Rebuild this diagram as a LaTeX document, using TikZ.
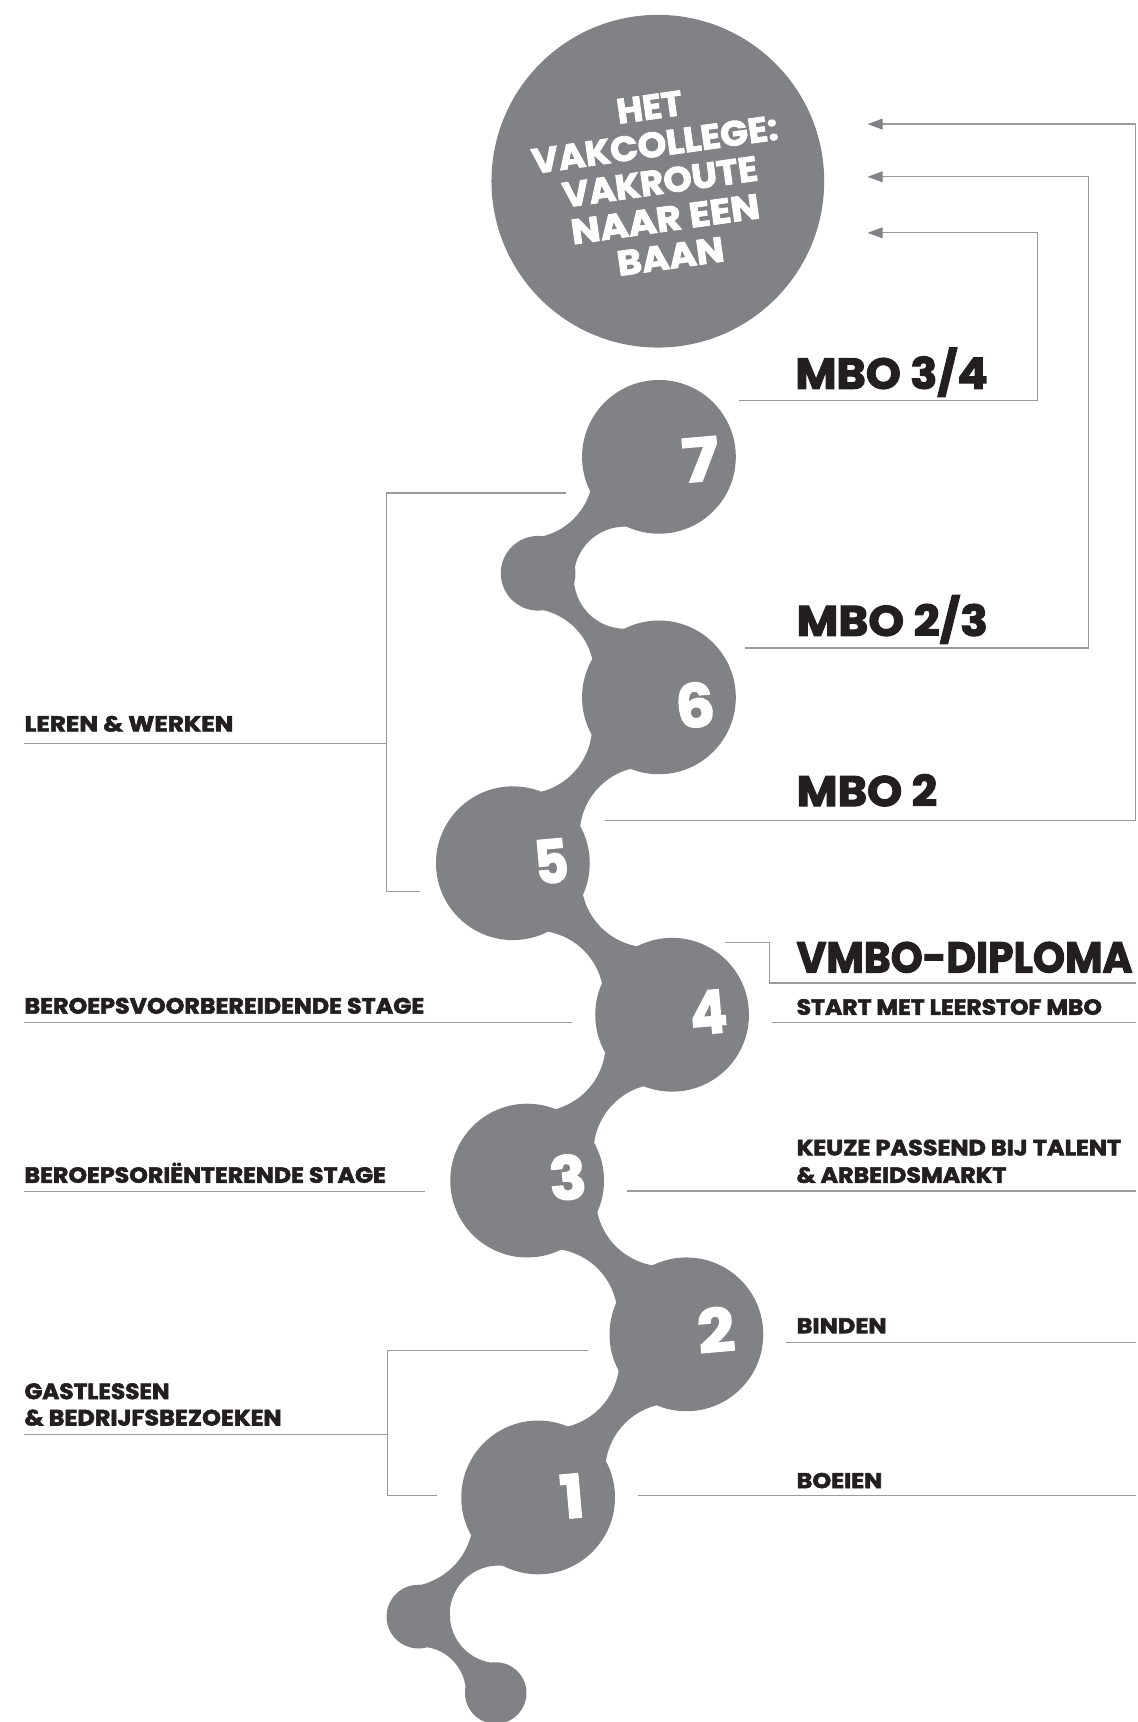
\documentclass[tikz,border=0pt]{standalone}
\usepackage{fontspec}
\usepackage{graphicx}
\setmainfont{Poppins}[BoldFeatures={FakeBold=2.5}]
\usetikzlibrary{calc,arrows.meta}
\definecolor{blobgray}{RGB}{128,130,133}
\definecolor{linegray}{RGB}{155,155,158}
\definecolor{ink}{RGB}{35,31,32}
% text resized to a given width and cap height
\newcommand{\fitwh}[3]{\resizebox{#1}{#2}{\smash{#3}\vphantom{H}}}
\newcommand{\necktrace}[4]{%
  \pgfmathsetmacro{\nkSa}{atan2(#2-\nkfay,#1-\nkfax)}%
  \pgfmathsetmacro{\nkEa}{atan2(#4-\nkfay,#3-\nkfax)}%
  \pgfmathsetmacro{\nkEa}{\nkEa-360*round((\nkEa-\nkSa)/360)}%
  \pgfmathsetmacro{\nkSb}{atan2(#4-\nkfby,#3-\nkfbx)}%
  \pgfmathsetmacro{\nkEb}{atan2(#2-\nkfby,#1-\nkfbx)}%
  \pgfmathsetmacro{\nkEb}{\nkEb-360*round((\nkEb-\nkSb)/360)}%
  \fill[blob] (#1,#2) -- ($(\nkfax,\nkfay)+(\nkSa:\nkRa)$)
     arc[start angle=\nkSa, end angle=\nkEa, radius=\nkRa]
     -- (#3,#4) -- ($(\nkfbx,\nkfby)+(\nkSb:\nkRb)$)
     arc[start angle=\nkSb, end angle=\nkEb, radius=\nkRb] -- cycle;%
}
\newcommand{\regneck}[8]{%
  \pgfmathsetmacro{\nkdx}{(#4-#1)/10}%
  \pgfmathsetmacro{\nkdy}{(#5-#2)/10}%
  \pgfmathsetmacro{\nkd}{10*sqrt(\nkdx*\nkdx+\nkdy*\nkdy)}%
  \pgfmathsetmacro{\nkux}{(#4-#1)/\nkd}%
  \pgfmathsetmacro{\nkuy}{(#5-#2)/\nkd}%
  \pgfmathsetmacro{\nka}{(#3+\nkd-#6)/2}%
  \pgfmathsetmacro{\nkfax}{#1+\nka*\nkux-#8*\nkuy}%
  \pgfmathsetmacro{\nkfay}{#2+\nka*\nkuy+#8*\nkux}%
  \pgfmathsetmacro{\nkfbx}{#1+\nka*\nkux+#8*\nkuy}%
  \pgfmathsetmacro{\nkfby}{#2+\nka*\nkuy-#8*\nkux}%
  \def\nkRa{#7}\def\nkRb{#7}%
  \necktrace{#1}{#2}{#4}{#5}%
}
\begin{document}
\begin{tikzpicture}[x=0.54925pt,y=-0.54925pt,
  blob/.style={fill=blobgray},
  ball/.style={circle, fill=blobgray, inner sep=0pt, minimum size=#1},
  lbl/.style={text=ink, font=\bfseries\fontsize{11}{12}\selectfont, inner sep=0pt, anchor=base west},
  big/.style={text=ink, font=\bfseries\fontsize{22}{24}\selectfont, inner sep=0pt, anchor=base west},
  num/.style={text=white, font=\bfseries\fontsize{30}{30}\selectfont, inner sep=0pt, rotate=5},
  conn/.style={draw=linegray, line width=0.6pt},
  arr/.style={conn, -{Triangle[length=7.5pt,width=5.4pt,color=blobgray]}}]
\path[use as bounding box] (0,0) rectangle (1036,1568);

% ---- chain of blobs ----
\regneck{490}{1363.5}{70}{625}{1215}{70}{62}{75}
\regneck{625}{1215}{70}{480}{1075}{70}{62}{75}
\regneck{480}{1075}{70}{612}{924}{70}{62}{75}
\regneck{612}{924}{70}{467}{786}{70}{62}{75}
\regneck{467}{786}{70}{600}{635}{70}{62}{75}
\def\nkfax{569}\def\nkfay{526}\def\nkRa{46.5}\def\nkfbx{481}\def\nkfby{614}\def\nkRb{60}
\necktrace{600}{635}{490}{522}
\def\nkfax{569}\def\nkfay{526}\def\nkRa{46.5}\def\nkfbx{480}\def\nkfby{430}\def\nkRb{60}
\necktrace{490}{522}{600}{416}
\def\nkfax{368}\def\nkfay{1382}\def\nkRa{63}\def\nkfbx{454}\def\nkfby{1470}\def\nkRb{44.5}
\necktrace{490}{1363.5}{381}{1472}
\def\nkfax{382.3}\def\nkfay{1541.4}\def\nkRa{42}\def\nkfbx{454}\def\nkfby{1470}\def\nkRb{44.5}
\necktrace{381}{1472}{451.4}{1541.6}

\node[ball=76.9pt] (c7) at (600,416) {};
\node[ball=37.35pt] (cC) at (490,522) {};
\node[ball=76.9pt] (c6) at (600,635) {};
\node[ball=76.9pt] (c5) at (467,786) {};
\node[ball=76.9pt] (c4) at (612,924) {};
\node[ball=76.9pt] (c3) at (480,1075) {};
\node[ball=76.9pt] (c2) at (625,1215) {};
\node[ball=76.9pt] (c1) at (490,1363.5) {};
\node[ball=31.86pt] (cA) at (381,1472) {};
\node[ball=30.76pt] (cB) at (451.4,1541.6) {};

\node[num] (n7) at (638,419) {\fitwh{18.5pt}{21pt}{7}};
\node[num] (n6) at (633,643) {\fitwh{19.5pt}{21pt}{6}};
\node[num] (n5) at (502,785) {\fitwh{17pt}{21pt}{5}};
\node[num] (n4) at (645,922) {\fitwh{18.5pt}{21pt}{4}};
\node[num] (n3) at (517,1073) {\fitwh{18.5pt}{21pt}{3}};
\node[num] (n2) at (652,1212) {\fitwh{18.5pt}{21pt}{2}};
\node[num] (n1) at (521,1363) {\fitwh{12pt}{21pt}{1}};

% ---- top circle ----
\node[ball=166.4pt] (top) at (599,165) {};
\node[text=white, font=\bfseries\fontsize{17}{18.84}\selectfont, align=center, rotate=8, inner sep=0pt] (title) at (601,165.5)
  {\fitwh{33pt}{12.3pt}{HET}\\ \fitwh{124.1pt}{12.3pt}{VAKCOLLEGE:}\\ \fitwh{98.3pt}{12.3pt}{VAKROUTE}\\ \fitwh{95pt}{12.3pt}{NAAR EEN}\\ \fitwh{53.8pt}{12.3pt}{BAAN}};

% ---- left labels ----
\node[lbl] (lw) at (22,666) {\fitwh{104.4pt}{7.6pt}{LEREN \& WERKEN}};
\node[lbl] (bv) at (22,923) {\fitwh{199.9pt}{7.8pt}{BEROEPSVOORBEREIDENDE STAGE}};
\node[lbl] (bo) at (22,1077) {\fitwh{180.7pt}{7.7pt}{BEROEPSORIËNTERENDE STAGE}};
\node[lbl] (g1) at (22,1274) {\fitwh{72.5pt}{7.8pt}{GASTLESSEN}};
\node[lbl] (g2) at (22,1298) {\fitwh{128.5pt}{7.8pt}{\& BEDRIJFSBEZOEKEN}};

% ---- right labels ----
\node[big] (m34) at (724,354) {\fitwh{96.1pt}{15.2pt}{MBO 3/4}};
\node[big] (m23) at (725,579) {\fitwh{95.6pt}{15pt}{MBO 2/3}};
\node[big] (m2) at (725,734) {\fitwh{70.3pt}{15pt}{MBO 2}};
\node[big] (vd) at (725,885.5) {\fitwh{168pt}{15.1pt}{VMBO-DIPLOMA}};
\node[lbl] (sm) at (725,924) {\fitwh{152.7pt}{7.7pt}{START MET LEERSTOF MBO}};
\node[lbl] (k1) at (725,1052) {\fitwh{162.3pt}{7.7pt}{KEUZE PASSEND BIJ TALENT}};
\node[lbl] (k2) at (725,1077) {\fitwh{104.9pt}{7.7pt}{\& ARBEIDSMARKT}};
\node[lbl] (bi) at (725,1214) {\fitwh{45pt}{7.5pt}{BINDEN}};
\node[lbl] (be) at (725,1355) {\fitwh{42.8pt}{7.5pt}{BOEIEN}};

% ---- connector end points ----
\coordinate (lwT) at (515,449);
\coordinate (lwJ) at (352,677);
\coordinate (lwB) at (382,812);
\coordinate (lwU) at (22,677);
\coordinate (bvA) at (22,931);
\coordinate (bvB) at (521,931);
\coordinate (boA) at (22,1085);
\coordinate (boB) at (387,1085);
\coordinate (gT) at (535,1230);
\coordinate (gJ) at (353,1306);
\coordinate (gB) at (398,1362);
\coordinate (gU) at (22,1306);
\coordinate (beA) at (581,1362);
\coordinate (beB) at (1034,1362);
\coordinate (biA) at (716,1222.5);
\coordinate (biB) at (1034,1222.5);
\coordinate (kA) at (571,1084.5);
\coordinate (kB) at (1034,1084.5);
\coordinate (smA) at (703,931);
\coordinate (smB) at (1034,931);
\coordinate (vdA) at (660,858);
\coordinate (vdK) at (701,895);
\coordinate (vdB) at (1034,895);
\coordinate (m2A) at (551,747);
\coordinate (m2K) at (1034,113);
\coordinate (m2T) at (790,113);
\coordinate (m23A) at (678,590);
\coordinate (m23K) at (991,161);
\coordinate (m23T) at (790,161);
\coordinate (m34A) at (673,365);
\coordinate (m34K) at (945,212);
\coordinate (m34T) at (790,212);

% ---- connectors ----
\draw[conn] (lwT) -| (lwJ) |- (lwB);
\draw[conn] (lwU) -- (lwJ);
\draw[conn] (bvA) -- (bvB);
\draw[conn] (boA) -- (boB);
\draw[conn] (gT) -| (gJ) |- (gB);
\draw[conn] (gU) -- (gJ);
\draw[conn] (beA) -- (beB);
\draw[conn] (biA) -- (biB);
\draw[conn] (kA) -- (kB);
\draw[conn] (smA) -- (smB);
\draw[conn] (vdA) -| (vdK) -- (vdB);
\draw[arr] (m2A) -| (m2K) -- (m2T);
\draw[arr] (m23A) -| (m23K) -- (m23T);
\draw[arr] (m34A) -| (m34K) -- (m34T);
\end{tikzpicture}
\end{document}
